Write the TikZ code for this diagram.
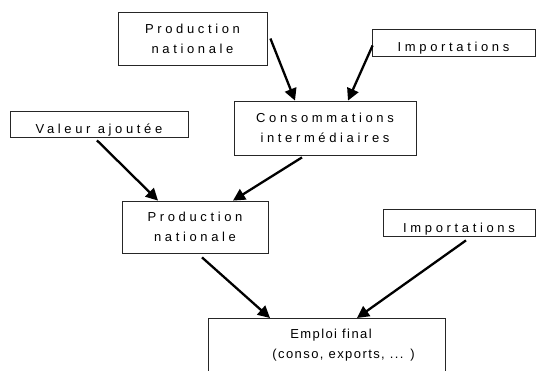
\documentclass[tikz,border=0pt]{standalone}
\usepackage{fontspec}
\setmainfont{Liberation Sans}[LetterSpace=28]
\newfontfamily\tightfont{Liberation Sans}[LetterSpace=11]
\usetikzlibrary{arrows.meta}
\begin{document}
\begin{tikzpicture}[x=1pt,y=1pt,
  box/.style={draw=black!85,line width=0.8pt,rectangle,inner sep=0pt,align=center,font=\fontsize{13}{20}\selectfont},
  onebox/.style={box,text height=19pt,text depth=0pt},
  arr/.style={line width=2.3pt,-{Triangle[length=12pt,width=12pt]}}]
\useasboundingbox (0,0) rectangle (537,370);
\clip (0,0) rectangle (537,370);
\node[box,minimum width=149pt,minimum height=53pt] (b1) at (192.5,331.5) {Production\\nationale};
\node[onebox,minimum width=163pt,minimum height=27pt] (b2) at (453.5,327.5) {Importations};
\node[box,minimum width=182pt,minimum height=54pt] (b3) at (325,242) {Consommations\\intermédiaires};
\node[onebox,minimum width=178pt,minimum height=26pt] (b4) at (99,246) {Valeur ajoutée};
\node[box,minimum width=146pt,minimum height=52pt] (b5) at (195,143) {Production\\nationale};
\node[onebox,minimum width=152pt,minimum height=27pt] (b6) at (459,147.5) {Importations};
\node[box,font=\fontsize{13}{20}\tightfont,anchor=north,minimum width=237pt,inner ysep=11pt,text depth=50pt] (b7) at (326.5,52) {\hspace*{9pt}Emploi final\\\hspace*{34pt}(conso, exports, ... )};
\draw[arr] ([shift={(3,0)}]b1.east) -- ([xshift=-30pt]b3.north);
\draw[arr] ([shift={(1,-3)}]b2.west) -- ([xshift=23pt]b3.north);
\draw[arr] ([shift={(-2,-3)}]b4.south) -- ([xshift=-37pt]b5.north);
\draw[arr] ([shift={(-23,-2)}]b3.south) -- ([xshift=38pt]b5.north);
\draw[arr] ([shift={(7,-4)}]b5.south) -- ([xshift=-56.5pt]b7.north);
\draw[arr] ([shift={(7,-4)}]b6.south) -- ([xshift=30.5pt]b7.north);
\end{tikzpicture}
\end{document}
